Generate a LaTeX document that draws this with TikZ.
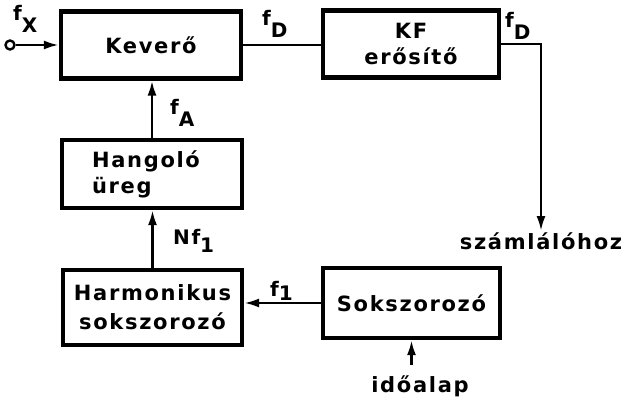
\documentclass[tikz,border=0pt]{standalone}
\usepackage{fontspec}
\setmainfont{DejaVu Sans Bold}[LetterSpace=8]
\usetikzlibrary{arrows.meta}
\newcommand\blktxt{\fontsize{21}{26}\selectfont}
\newcommand\labtxt{\fontsize{20}{24}\selectfont}
\newcommand\fsub[2]{f\raisebox{-#1}{#2}}
\begin{document}
\begin{tikzpicture}[x=1pt,y=-1pt,
  blk/.style={draw,line width=4.2pt,inner sep=0pt,align=center,font=\blktxt},
  conn/.style={line width=2.6pt},
  arr/.style={conn,-{Latex[length=15pt,width=9pt]}},
  lab/.style={inner sep=0pt,anchor=base west,font=\labtxt},
  txt/.style={inner sep=0pt,anchor=base,font=\blktxt}]
\useasboundingbox (0,0) rectangle (624,406);
\node[blk,minimum width=180pt,minimum height=67pt] (kev) at (151,45) {\raisebox{-4pt}{Keverő}};
\node[blk,minimum width=176pt,minimum height=67pt] (kf) at (411,44) {KF\\erősítő};
\node[blk,minimum width=180pt,minimum height=68pt,align=left] (hang) at (152,174) {Hangoló\hspace*{12pt}\\üreg};
\node[blk,minimum width=179pt,minimum height=75pt,font=\fontsize{21}{29}\selectfont] (harm) at (152.5,307.5) {Harmonikus\\sokszorozó};
\node[blk,minimum width=177pt,minimum height=70pt] (sok) at (411.5,303) {Sokszorozó};
\node[circle,draw,line width=2.4pt,inner sep=0pt,minimum size=9pt] (in) at (10,45) {};
\draw[arr] (in) -- (kev.west);
\node[lab] (lx) at (13,21) {\fsub{12pt}{X}};
\draw[conn] (kev.east) -- (kev.east -| kf.west);
\node[lab] (ld1) at (262,26) {\fsub{12pt}{D}};
\node[txt] (szam) at (541,250) {számlálóhoz};
\draw[arr] (kf.east) -| ([yshift=2pt]szam.north);
\node[lab] (ld2) at (505,28) {\fsub{12pt}{D}};
\draw[arr] (hang.north) -- (hang.north |- kev.south);
\node[lab] (la) at (170,115) {\fsub{12pt}{A}};
\draw[arr] (harm.north) -- (harm.north |- hang.south);
\node[lab] (ln) at (173,245) {N\fsub{8pt}{1}};
\draw[arr] (sok.west) -- (sok.west -| harm.east);
\node[lab] (l1) at (270,297) {\fsub{3pt}{1}};
\node[txt] (ido) at (420,392) {időalap};
\path (sok.south |- ido.north) ++(0,-10) coordinate (idot);
\draw[arr] (idot) -- (sok.south);
\end{tikzpicture}
\end{document}
